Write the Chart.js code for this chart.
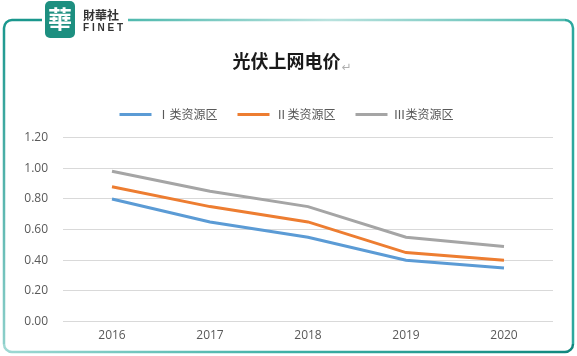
<!DOCTYPE html>
<html>
<head>
<meta charset="utf-8">
<script src="https://cdn.jsdelivr.net/npm/chart.js@4/dist/chart.umd.min.js"></script>
<style>
html,body{margin:0;padding:0;background:#fff;}
#wrap{width:577px;height:356px;position:relative;}
</style>
</head>
<body>
<div id="wrap"><canvas id="c" width="577" height="356"></canvas></div>
<script>
const categories = ['2016', '2017', '2018', '2019', '2020'];
const seriesNames = ['Ⅰ类资源区', 'Ⅱ类资源区', 'Ⅲ类资源区'];
const region1 = [0.80, 0.65, 0.55, 0.40, 0.35];
const region2 = [0.88, 0.75, 0.65, 0.45, 0.40];
const region3 = [0.98, 0.85, 0.75, 0.55, 0.49];
const chartTitle = '光伏上网电价';

const colors = ['#5b9bd5', '#ed7d31', '#a5a5a5'];

const framePlugin = {
  id: 'frame',
  beforeLayout(chart) {
    const lg = chart.legend;
    if (lg && !lg._patched) {
      const orig = lg.fit.bind(lg);
      lg.fit = function () { orig(); this.height += 7; };
      lg._patched = true;
    }
  },
  beforeDraw(chart) {
    const c = chart.ctx;
    c.save();
    c.fillStyle = '#ffffff';
    c.fillRect(0, 0, chart.width, chart.height);
    const L = 4, T = 20, R = 573, B = 352, r = 8;
    c.lineWidth = 2.5;
    c.lineCap = 'butt';
    let g = c.createLinearGradient(0, T, 0, B);
    g.addColorStop(0, '#1a978d');
    g.addColorStop(1, '#8fd0cb');
    c.strokeStyle = g;
    c.beginPath();
    c.moveTo(42, T);
    c.lineTo(L + r, T);
    c.arcTo(L, T, L, T + r, r);
    c.lineTo(L, B - r);
    c.stroke();
    g = c.createLinearGradient(L, 0, R, 0);
    g.addColorStop(0, '#9fd8d3');
    g.addColorStop(0.5, '#3eb0a6');
    g.addColorStop(1, '#10877e');
    c.strokeStyle = g;
    c.beginPath();
    c.moveTo(L, B - r);
    c.arcTo(L, B, L + r, B, r);
    c.lineTo(R - r, B);
    c.arcTo(R, B, R, B - r, r);
    c.stroke();
    c.strokeStyle = '#2da89e';
    c.beginPath();
    c.moveTo(R, B - r);
    c.lineTo(R, T + r);
    c.arcTo(R, T, R - r, T, r);
    c.stroke();
    g = c.createLinearGradient(128, 0, R, 0);
    g.addColorStop(0, '#4fb9ae');
    g.addColorStop(0.45, '#b9e2de');
    g.addColorStop(1, '#4fb9ae');
    c.strokeStyle = g;
    c.beginPath();
    c.moveTo(R - r, T);
    c.lineTo(128, T);
    c.stroke();
    c.fillStyle = '#1d8f80';
    c.beginPath();
    if (c.roundRect) c.roundRect(45, 1, 30, 37, 5); else c.rect(45, 1, 30, 37);
    c.fill();
    c.fillStyle = '#ffffff';
    c.font = 'bold 24px "Noto Sans CJK TC"';
    c.textAlign = 'center';
    c.textBaseline = 'middle';
    c.fillText('華', 60, 19);
    c.fillStyle = '#333333';
    c.textAlign = 'left';
    c.font = 'bold 12px "Noto Sans CJK TC"';
    c.fillText('財華社', 83, 15);
    c.font = 'bold 10px "Liberation Sans"';
    c.fillText('F I N E T', 83, 28);
    c.restore();
  },
  afterDraw(chart) {
    const c = chart.ctx;
    const t = chart.titleBlock;
    c.save();
    c.font = 'bold 18px "Noto Sans CJK SC"';
    const w = c.measureText(chartTitle).width;
    const cx = (t.left + t.right) / 2;
    const cy = t.top + t.height / 2;
    c.font = '12px "DejaVu Sans"';
    c.fillStyle = '#b0b0b0';
    c.textAlign = 'left';
    c.textBaseline = 'middle';
    c.fillText('↵', cx + w / 2 + 1, cy - 1);
    c.restore();
  }
};

new Chart(document.getElementById('c'), {
  type: 'line',
  data: {
    labels: categories,
    datasets: [
      { label: seriesNames[0], data: region1, borderColor: colors[0], backgroundColor: colors[0] },
      { label: seriesNames[1], data: region2, borderColor: colors[1], backgroundColor: colors[1] },
      { label: seriesNames[2], data: region3, borderColor: colors[2], backgroundColor: colors[2] }
    ]
  },
  plugins: [framePlugin],
  options: {
    responsive: false,
    animation: false,
    devicePixelRatio: 1,
    layout: { padding: { top: 50, left: 20, right: 24, bottom: 6 } },
    elements: {
      line: { borderWidth: 3, tension: 0, borderCapStyle: 'butt' },
      point: { radius: 0, hoverRadius: 0 }
    },
    plugins: {
      tooltip: { enabled: false },
      title: {
        display: true,
        text: chartTitle,
        color: '#1a1a1a',
        font: { family: '"Noto Sans CJK SC"', size: 18, weight: 'bold' },
        padding: { top: 0, bottom: 17 }
      },
      legend: {
        display: true,
        labels: {
          color: '#595959',
          font: { family: '"Noto Sans CJK SC"', size: 12 },
          boxWidth: 32,
          boxHeight: 3,
          padding: 20,
          generateLabels(chart) {
            return chart.data.datasets.map((d, i) => ({
              text: d.label,
              fillStyle: d.borderColor,
              strokeStyle: d.borderColor,
              lineWidth: 0,
              datasetIndex: i,
              fontColor: '#595959'
            }));
          }
        }
      }
    },
    scales: {
      x: {
        offset: true,
        grid: { display: false, drawTicks: false },
        border: { display: false },
        ticks: { color: '#595959', font: { family: '"Open Sans"', size: 12 }, padding: 7 }
      },
      y: {
        min: 0,
        max: 1.2,
        afterFit(scale) { scale.width = 43; },
        grid: { color: '#d9d9d9', lineWidth: 1, drawTicks: false },
        border: { display: false },
        ticks: {
          stepSize: 0.2,
          color: '#595959',
          font: { family: '"Open Sans"', size: 12 },
          padding: 15,
          callback: v => Number(v).toFixed(2)
        }
      }
    }
  }
});
</script>
</body>
</html>
